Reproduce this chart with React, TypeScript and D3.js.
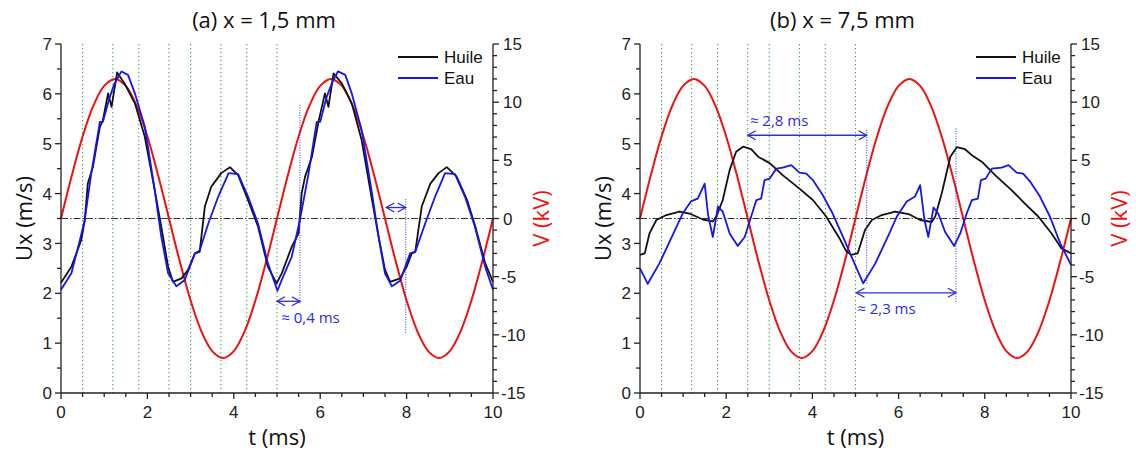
import React from "react";
import * as d3 from "d3";

type Pt = [number, number];

// ---------- data ----------
const timeTicks = [0, 2, 4, 6, 8, 10];
const uxTicks = [0, 1, 2, 3, 4, 5, 6, 7];
const vTicks = [-15, -10, -5, 0, 5, 10, 15];
const markerTimes = [0.5, 1.2, 1.8, 2.5, 3.0, 3.7, 4.3, 5.0];

const voltageKV: Pt[] = [
  [0, 0], [0.25, 3.7], [0.5, 7.05], [0.75, 9.7], [1.0, 11.4], [1.25, 12.0], [1.5, 11.4], [1.75, 9.7],
  [2.0, 7.05], [2.25, 3.7], [2.5, 0], [2.75, -3.7], [3.0, -7.05], [3.25, -9.7], [3.5, -11.4], [3.75, -12.0],
  [4.0, -11.4], [4.25, -9.7], [4.5, -7.05], [4.75, -3.7], [5.0, 0], [5.25, 3.7], [5.5, 7.05], [5.75, 9.7],
  [6.0, 11.4], [6.25, 12.0], [6.5, 11.4], [6.75, 9.7], [7.0, 7.05], [7.25, 3.7], [7.5, 0], [7.75, -3.7],
  [8.0, -7.05], [8.25, -9.7], [8.5, -11.4], [8.75, -12.0], [9.0, -11.4], [9.25, -9.7], [9.5, -7.05],
  [9.75, -3.7], [10.0, 0],
];

const huileA: Pt[] = [
  [0, 2.21], [0.24, 2.53], [0.47, 3.07], [0.55, 3.47], [0.62, 4.2], [0.74, 4.54], [0.9, 5.34], [0.97, 5.47],
  [1.09, 6.01], [1.17, 5.74], [1.3, 6.43], [1.47, 6.21], [1.71, 5.81], [1.94, 5.14], [2.17, 4.07], [2.32, 3.34],
  [2.48, 2.53], [2.59, 2.23], [2.79, 2.3], [2.94, 2.47], [3.1, 2.8], [3.21, 2.83], [3.33, 3.74], [3.48, 4.14],
  [3.71, 4.41], [3.91, 4.53], [4.1, 4.37], [4.33, 3.87], [4.56, 3.34], [4.79, 2.53], [4.99, 2.2], [5.11, 2.4],
  [5.34, 2.93], [5.5, 3.2], [5.57, 4.0], [5.65, 4.34], [5.81, 4.74], [5.96, 5.44], [6.11, 6.01], [6.19, 5.74],
  [6.31, 6.41], [6.5, 6.21], [6.73, 5.81], [6.96, 5.07], [7.2, 3.87], [7.35, 3.14], [7.5, 2.47], [7.62, 2.23],
  [7.85, 2.3], [8.0, 2.53], [8.12, 2.8], [8.2, 2.83], [8.35, 3.74], [8.55, 4.2], [8.74, 4.41], [8.93, 4.53],
  [9.16, 4.34], [9.4, 3.87], [9.59, 3.34], [9.82, 2.6], [10, 2.23],
];

const eauA: Pt[] = [
  [0, 2.07], [0.24, 2.4], [0.43, 3.04], [0.55, 3.47], [0.7, 4.4], [0.9, 5.44], [0.97, 5.44], [1.13, 5.94],
  [1.24, 6.21], [1.4, 6.45], [1.55, 6.38], [1.71, 6.01], [1.94, 5.34], [2.17, 4.07], [2.32, 3.14], [2.48, 2.4],
  [2.67, 2.14], [2.86, 2.26], [3.1, 2.8], [3.21, 2.86], [3.41, 3.4], [3.64, 3.94], [3.88, 4.41], [4.1, 4.39],
  [4.33, 3.94], [4.56, 3.4], [4.79, 2.6], [5.01, 2.05], [5.11, 2.27], [5.34, 2.73], [5.53, 3.47], [5.73, 4.4],
  [5.92, 5.44], [6.0, 5.44], [6.15, 5.94], [6.27, 6.21], [6.41, 6.45], [6.58, 6.38], [6.73, 6.01], [6.96, 5.27],
  [7.2, 4.0], [7.35, 3.14], [7.5, 2.4], [7.66, 2.14], [7.85, 2.25], [8.08, 2.8], [8.2, 2.83], [8.43, 3.4],
  [8.66, 3.94], [8.89, 4.41], [9.12, 4.39], [9.35, 3.94], [9.58, 3.34], [9.82, 2.53], [10, 2.07],
];

const huileB: Pt[] = [
  [0, 2.77], [0.11, 2.8], [0.22, 3.2], [0.38, 3.47], [0.61, 3.57], [0.92, 3.64], [1.15, 3.6], [1.46, 3.48],
  [1.69, 3.44], [1.77, 3.54], [1.92, 3.87], [2.08, 4.47], [2.23, 4.84], [2.39, 4.94], [2.58, 4.89], [2.74, 4.74],
  [3.01, 4.61], [3.31, 4.37], [3.7, 4.1], [4.01, 3.87], [4.32, 3.54], [4.63, 3.1], [4.78, 2.85], [4.9, 2.77],
  [5.05, 2.8], [5.22, 3.27], [5.38, 3.47], [5.61, 3.57], [5.92, 3.64], [6.23, 3.59], [6.5, 3.47], [6.77, 3.43],
  [6.85, 3.54], [7.0, 4.0], [7.2, 4.74], [7.35, 4.93], [7.54, 4.89], [7.7, 4.77], [7.93, 4.64], [8.24, 4.37],
  [8.62, 4.07], [8.93, 3.8], [9.24, 3.54], [9.55, 3.2], [9.78, 2.9], [10, 2.8],
];

const eauB: Pt[] = [
  [0, 2.5], [0.18, 2.19], [0.45, 2.6], [0.76, 3.17], [0.99, 3.6], [1.19, 3.85], [1.34, 3.9], [1.5, 4.2],
  [1.58, 3.57], [1.69, 3.13], [1.81, 3.74], [1.92, 3.64], [2.08, 3.2], [2.27, 2.95], [2.43, 3.13], [2.58, 3.54],
  [2.7, 3.87], [2.81, 3.9], [2.89, 4.27], [3.01, 4.3], [3.16, 4.5], [3.31, 4.52], [3.51, 4.57], [3.7, 4.42],
  [3.86, 4.4], [4.01, 4.27], [4.24, 3.97], [4.47, 3.6], [4.71, 3.13], [4.94, 2.67], [5.18, 2.2], [5.46, 2.6],
  [5.77, 3.17], [5.96, 3.54], [6.19, 3.84], [6.38, 3.94], [6.5, 4.17], [6.6, 3.47], [6.69, 3.13], [6.81, 3.72],
  [6.92, 3.6], [7.08, 3.23], [7.29, 2.95], [7.43, 3.2], [7.58, 3.6], [7.7, 3.87], [7.84, 3.9], [7.91, 4.27],
  [8.02, 4.3], [8.16, 4.5], [8.39, 4.52], [8.55, 4.57], [8.74, 4.42], [8.89, 4.4], [9.05, 4.24], [9.28, 3.94],
  [9.51, 3.54], [9.75, 3.0], [10, 2.57],
];

// annotation values in data units
const guidesA = [{ t: 5.53, u1: 1.8, u2: 5.8 }, { t: 7.98, u1: 1.21, u2: 3.9 }];
const arrowsA = [{ t1: 5.0, t2: 5.53, u: 1.84 }, { t1: 7.53, t2: 7.98, u: 3.72 }];
const notesA = [{ t: 5.1, u: 1.51, text: "≈ 0,4 ms" }];

const guidesB = [{ t: 5.26, u1: 2.2, u2: 5.31 }, { t: 7.33, u1: 1.83, u2: 5.31 }];
const arrowsB = [{ t1: 2.5, t2: 5.26, u: 5.17 }, { t1: 5.02, t2: 7.33, u: 2.01 }];
const notesB = [
  { t: 2.55, u: 5.47, text: "≈ 2,8 ms" },
  { t: 5.04, u: 1.68, text: "≈ 2,3 ms" },
];

// ---------- drawing ----------
const TOP = 44;
const BOTTOM = 393;
const TICK_FONT = "'Liberation Sans', Arial, sans-serif";
const LABEL_FONT = "'Open Sans', Lato, sans-serif";
const BLUE = "#1515f0";
const RED = "#ee1111";
const ANN = "#2a2ae8";

type PanelProps = {
  left: number;
  right: number;
  title: string;
  huile: Pt[];
  eau: Pt[];
  guides: { t: number; u1: number; u2: number }[];
  arrows: { t1: number; t2: number; u: number }[];
  notes: { t: number; u: number; text: string }[];
};

function Panel({ left, right, title, huile, eau, guides, arrows, notes }: PanelProps) {
  const x = d3.scaleLinear().domain([0, 10]).range([left, right]);
  const y = d3.scaleLinear().domain([0, 7]).range([BOTTOM, TOP]);
  const yv = d3.scaleLinear().domain([-15, 15]).range([BOTTOM, TOP]);
  const uLine = d3.line<Pt>().x((d) => x(d[0])).y((d) => y(d[1]));
  const vLine = d3
    .line<Pt>()
    .x((d) => x(d[0]))
    .y((d) => yv(d[1]))
    .curve(d3.curveCatmullRom);

  const xMinor = d3.range(0, 10.001, 0.5).filter((v) => Math.abs(v % 2) > 1e-6);
  const yMinor = d3.range(0.5, 7, 1);
  const vMinor = d3.range(-15, 15.001, 1).filter((v) => Math.abs(v % 5) > 1e-6);

  const mid = (left + right) / 2;

  return (
    <g>
      {/* green dotted markers */}
      {markerTimes.map((t) => (
        <line key={"m" + t} x1={x(t)} x2={x(t)} y1={TOP} y2={BOTTOM} stroke="#44a044" strokeWidth={1.1} strokeDasharray="1.2,2.8" />
      ))}
      {/* zero voltage line */}
      <line x1={left} x2={right} y1={yv(0)} y2={yv(0)} stroke="#333" strokeWidth={1} strokeDasharray="7,2,1.5,2" />

      <path d={vLine(voltageKV) || ""} fill="none" stroke={RED} strokeWidth={2} />
      <path d={uLine(huile) || ""} fill="none" stroke="#111" strokeWidth={1.8} strokeLinejoin="round" />
      <path d={uLine(eau) || ""} fill="none" stroke={BLUE} strokeWidth={1.8} strokeLinejoin="round" />

      {/* annotations */}
      {guides.map((g, i) => (
        <line key={"g" + i} x1={x(g.t)} x2={x(g.t)} y1={y(g.u1)} y2={y(g.u2)} stroke={ANN} strokeWidth={1} strokeDasharray="1,1.5" />
      ))}
      {arrows.map((a, i) => {
        const x1 = x(a.t1);
        const x2 = x(a.t2);
        const yy = y(a.u);
        const hl = Math.min(8, (x2 - x1) / 2 - 1);
        const hh = hl < 8 ? 3.5 : 4.5;
        return (
          <g key={"a" + i} stroke={ANN} strokeWidth={1.3} fill="none">
            <line x1={x1} x2={x2} y1={yy} y2={yy} />
            <path d={`M${x1 + hl},${yy - hh}L${x1},${yy}L${x1 + hl},${yy + hh}`} />
            <path d={`M${x2 - hl},${yy - hh}L${x2},${yy}L${x2 - hl},${yy + hh}`} />
          </g>
        );
      })}
      {notes.map((n, i) => (
        <text key={"n" + i} x={x(n.t)} y={y(n.u)} dy="0.35em" fill={ANN} fontFamily={LABEL_FONT} fontSize={15}>
          {n.text}
        </text>
      ))}

      {/* axes */}
      <g stroke="#222" strokeWidth={1.3}>
        <line x1={left} x2={left} y1={TOP} y2={BOTTOM} />
        <line x1={right} x2={right} y1={TOP} y2={BOTTOM} />
        <line x1={left} x2={right} y1={BOTTOM} y2={BOTTOM} />
        {timeTicks.map((t) => (
          <line key={"xt" + t} x1={x(t)} x2={x(t)} y1={BOTTOM} y2={BOTTOM + 6} />
        ))}
        {xMinor.map((t) => (
          <line key={"xm" + t} x1={x(t)} x2={x(t)} y1={BOTTOM} y2={BOTTOM + 4} />
        ))}
        {uxTicks.map((u) => (
          <line key={"yt" + u} x1={left - 6} x2={left} y1={y(u)} y2={y(u)} />
        ))}
        {yMinor.map((u) => (
          <line key={"ym" + u} x1={left - 4} x2={left} y1={y(u)} y2={y(u)} />
        ))}
        {vTicks.map((v) => (
          <line key={"vt" + v} x1={right} x2={right + 6} y1={yv(v)} y2={yv(v)} />
        ))}
        {vMinor.map((v) => (
          <line key={"vm" + v} x1={right} x2={right + 4} y1={yv(v)} y2={yv(v)} />
        ))}
      </g>
      <g fontFamily={TICK_FONT} fontSize={17} fill="#222">
        {timeTicks.map((t) => (
          <text key={"xl" + t} x={x(t)} y={BOTTOM + 25} textAnchor="middle">
            {t}
          </text>
        ))}
        {uxTicks.map((u) => (
          <text key={"yl" + u} x={left - 9} y={y(u)} dy="0.36em" textAnchor="end">
            {u}
          </text>
        ))}
        {vTicks.map((v) => (
          <text key={"vl" + v} x={right + (v < 0 ? 8 : 10)} y={yv(v)} dy="0.36em" textAnchor="start">
            {v < 0 ? "-" + Math.abs(v) : v}
          </text>
        ))}
      </g>

      {/* legend */}
      <g fontFamily={TICK_FONT} fontSize={17} fill="#111">
        <line x1={right - 95} x2={right - 55} y1={57} y2={57} stroke="#111" strokeWidth={1.8} />
        <text x={right - 49} y={57} dy="0.36em">Huile</text>
        <line x1={right - 95} x2={right - 55} y1={78} y2={78} stroke={BLUE} strokeWidth={1.8} />
        <text x={right - 49} y={78} dy="0.36em">Eau</text>
      </g>

      {/* labels */}
      <text x={mid - 13} y={28} textAnchor="middle" fontFamily={LABEL_FONT} fontSize={22} fill="#111">
        {title}
      </text>
      <text x={mid} y={445} textAnchor="middle" fontFamily={LABEL_FONT} fontSize={22} fill="#111">
        t (ms)
      </text>
      <text
        transform={`translate(${left - 29},${(TOP + BOTTOM) / 2}) rotate(-90)`}
        textAnchor="middle"
        fontFamily={LABEL_FONT}
        fontSize={22}
        fill="#111"
      >
        Ux (m/s)
      </text>
      <text
        transform={`translate(${right + 56},${(TOP + BOTTOM) / 2}) rotate(-90)`}
        textAnchor="middle"
        fontFamily={LABEL_FONT}
        fontSize={22}
        fill={RED}
      >
        V (kV)
      </text>
    </g>
  );
}

export default function App() {
  return (
    <svg width={1136} height={450} style={{ position: "absolute", left: 0, top: 0, background: "#fff" }}>
      <rect width={1136} height={450} fill="#fff" />
      <Panel left={61} right={493} title="(a) x = 1,5 mm" huile={huileA} eau={eauA} guides={guidesA} arrows={arrowsA} notes={notesA} />
      <Panel left={640} right={1071} title="(b) x = 7,5 mm" huile={huileB} eau={eauB} guides={guidesB} arrows={arrowsB} notes={notesB} />
    </svg>
  );
}
